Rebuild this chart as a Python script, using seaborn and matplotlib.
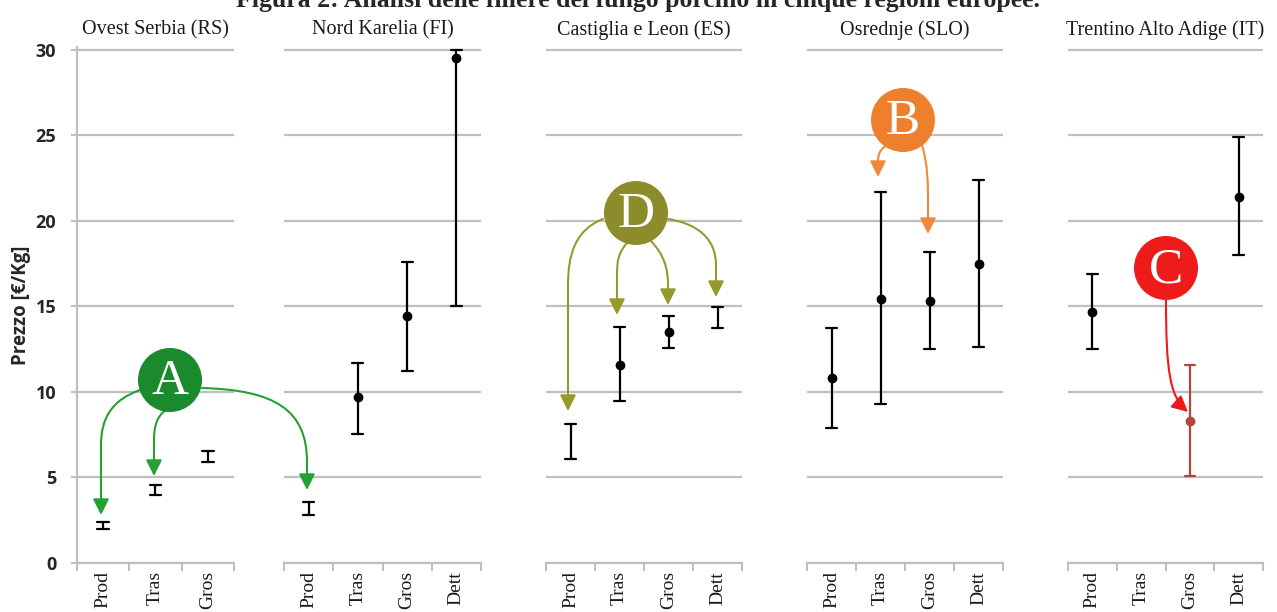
import numpy as np
import pandas as pd
import matplotlib
matplotlib.use("Agg")
import matplotlib.pyplot as plt
import seaborn as sns
from matplotlib.path import Path
from matplotlib.patches import FancyArrowPatch, Circle
from matplotlib.ticker import FixedLocator

# ---------------------------------------------------------------- data
regioni = ["Ovest Serbia (RS)", "Nord Karelia (FI)", "Castiglia e Leon (ES)",
           "Osrednje (SLO)", "Trentino Alto Adige (IT)"]
fasi_rs = ["Prod", "Tras", "Gros"]
fasi = ["Prod", "Tras", "Gros", "Dett"]

# price per kg along the chain: minimum, typical (None = not shown), maximum
rs_min = [2.0, 4.0, 5.9]
rs_tip = [None, None, None]
rs_max = [2.4, 4.55, 6.55]

fi_min = [2.8, 7.55, 11.25, 15.0]
fi_tip = [None, 9.7, 14.45, 29.55]
fi_max = [3.55, 11.7, 17.6, 30.0]

es_min = [6.1, 9.5, 12.55, 13.75]
es_tip = [None, 11.6, 13.5, None]
es_max = [8.1, 13.8, 14.45, 14.95]

slo_min = [7.9, 9.3, 12.5, 12.65]
slo_tip = [10.8, 15.45, 15.3, 17.5]
slo_max = [13.75, 21.7, 18.2, 22.4]

it_min = [12.5, None, 5.1, 18.0]
it_tip = [14.7, None, 8.3, 21.4]
it_max = [16.9, None, 11.55, 24.9]
it_evidenziato = [False, False, True, False]

serie = [
    (fasi_rs, rs_min, rs_tip, rs_max, None),
    (fasi, fi_min, fi_tip, fi_max, None),
    (fasi, es_min, es_tip, es_max, None),
    (fasi, slo_min, slo_tip, slo_max, None),
    (fasi, it_min, it_tip, it_max, it_evidenziato),
]

stili = ["punto", "solo intervallo", "evidenziato"]
palette = {"punto": "black", "solo intervallo": "black", "evidenziato": "#b0463f"}
marcatori = ["o", "", "o"]


def tabella(etichette, vmin, vtip, vmax, evid):
    righe = []
    for i, fase in enumerate(etichette):
        if vmin[i] is None:
            continue
        if evid is not None and evid[i]:
            stile = "evidenziato"
        elif vtip[i] is None:
            stile = "solo intervallo"
        else:
            stile = "punto"
        valori = [vmin[i], vmax[i]] + ([vtip[i]] if vtip[i] is not None else [])
        for v in valori:
            righe.append({"fase": fase, "prezzo": v, "stile": stile})
    return pd.DataFrame(righe)


# ---------------------------------------------------------------- style
sns.set_style("white")
plt.rcParams["font.family"] = ["Liberation Serif", "DejaVu Serif"]

W, H = 1277, 612
fig = plt.figure(figsize=(W / 100, H / 100), dpi=100)

GRIGIO = "#bfbfbf"
y_top_px, y_bot_px = 47.4, 563
pannelli_px = [(77, 234), (284, 481), (546, 742), (807, 1003), (1068, 1263)]

assi = []
for k, ((x0, x1), (etichette, vmin, vtip, vmax, evid)) in enumerate(zip(pannelli_px, serie)):
    ax = fig.add_axes([x0 / W, (H - y_bot_px) / H, (x1 - x0) / W, (y_bot_px - y_top_px) / H])
    df = tabella(etichette, vmin, vtip, vmax, evid)
    sns.pointplot(data=df, x="fase", y="prezzo", hue="stile", order=etichette,
                  hue_order=stili, palette=palette, markers=marcatori,
                  estimator="median", errorbar=lambda v: (v.min(), v.max()),
                  linestyle="none", capsize=0.22, markersize=5,
                  err_kws={"linewidth": 1.6}, legend=False, ax=ax)
    n = len(etichette)
    ax.set_xlim(-0.5, n - 0.5)
    ax.set_ylim(0, 30.15)
    ax.set_yticks(np.arange(0, 31, 5))
    ax.yaxis.grid(True, color=GRIGIO, linewidth=1.6)
    ax.xaxis.grid(False)
    ax.set_axisbelow(True)
    for lato in ["top", "right"]:
        ax.spines[lato].set_visible(False)
    ax.spines["bottom"].set_color(GRIGIO)
    ax.spines["bottom"].set_linewidth(1.6)

    ax.set_xticks(range(n))
    ax.set_xticklabels(etichette, rotation=90, fontsize=14,
                       family=["Liberation Serif"])
    ax.xaxis.set_minor_locator(FixedLocator(np.arange(-0.5, n, 1.0)))
    ax.tick_params(axis="x", which="major", length=0, pad=6, colors="#1a1a1a")
    ax.tick_params(axis="x", which="minor", length=6, width=1.4,
                   color=GRIGIO, direction="out", bottom=True)
    ax.set_xlabel("")
    ax.set_title(regioni[k], fontsize=14.5, pad=9, color="#1a1a1a")

    if k == 0:
        ax.spines["left"].set_color(GRIGIO)
        ax.spines["left"].set_linewidth(1.6)
        ax.tick_params(axis="y", length=8, width=1.4, color=GRIGIO,
                       direction="inout", pad=11, left=True)
        for t in ax.get_yticklabels():
            t.set_family(["Open Sans", "DejaVu Sans"])
            t.set_fontweight("bold")
            t.set_fontsize(13)
        ax.set_ylabel("Prezzo [€/Kg]", family=["Open Sans", "DejaVu Sans"],
                      fontweight="bold", fontsize=13.5)
        ax.yaxis.set_label_coords((31 - 77) / 157, 0.5)
    else:
        ax.spines["left"].set_visible(False)
        ax.tick_params(axis="y", length=0, labelleft=False)
        ax.set_ylabel("")
    assi.append(ax)

fig.text(638 / W, 1 - 7 / H,
         "Figura 2: Analisi delle filiere del fungo porcino in cinque regioni europee.",
         ha="center", va="baseline", fontsize=18.5, fontweight="bold",
         family=["Liberation Serif"])

# ---------------------------------------------------------------- callouts
ov = fig.add_axes([0, 0, 1, 1], zorder=10)
ov.set_xlim(0, W)
ov.set_ylim(H, 0)
ov.axis("off")
ov.patch.set_alpha(0)


def freccia(punti, colore):
    """Curved arrow: one cubic Bezier followed by optional straight segments."""
    codici = [Path.MOVETO, Path.CURVE4, Path.CURVE4, Path.CURVE4]
    codici += [Path.LINETO] * (len(punti) - 4)
    p = FancyArrowPatch(path=Path(punti, codici), transform=ov.transData,
                        arrowstyle="-|>,head_length=0.8,head_width=0.4",
                        mutation_scale=12, color=colore, linewidth=1.5,
                        shrinkA=0, shrinkB=0)
    ov.add_patch(p)


def bollo(x, y, lettera, colore):
    ov.add_patch(Circle((x, y), 32, facecolor=colore, edgecolor="none", zorder=3))
    ov.text(x, y + 2, lettera, ha="center", va="center", color="white",
            fontsize=37, family=["Liberation Serif"], zorder=4)


verde, arancio, oliva, rosso = "#1a8a2c", "#ee7f2d", "#8c8c2a", "#ee1b1b"

# A
freccia([(140, 390), (112, 400), (101, 418), (101, 445), (101, 515)], "#25a035")
freccia([(166, 410), (157, 416), (154, 426), (154, 440), (154, 476)], "#25a035")
freccia([(202, 388), (275, 390), (307, 410), (307, 462), (307, 490)], "#25a035")
bollo(170, 380, "A", verde)

# D
freccia([(603, 219), (575, 230), (568, 255), (568, 285), (568, 411)], "#959a2c")
freccia([(627, 243), (618, 253), (617, 262), (617, 275), (617, 315)], "#959a2c")
freccia([(651, 241), (664, 255), (668, 268), (668, 285), (668, 305)], "#959a2c")
freccia([(668, 219), (705, 225), (716, 245), (716, 265), (716, 297)], "#959a2c")
bollo(636, 213, "D", oliva)

# B
freccia([(886, 146), (879, 150), (878, 156), (878, 162), (878, 177)], "#f08a3a")
freccia([(922, 145), (928, 165), (928, 185), (928, 200), (928, 234)], "#f08a3a")
bollo(903, 120, "B", arancio)

# C
freccia([(1166, 300), (1166, 372), (1170, 396), (1188, 412)], "#f01818")
bollo(1166, 268, "C", rosso)

fig.savefig("out.png", dpi=100)
